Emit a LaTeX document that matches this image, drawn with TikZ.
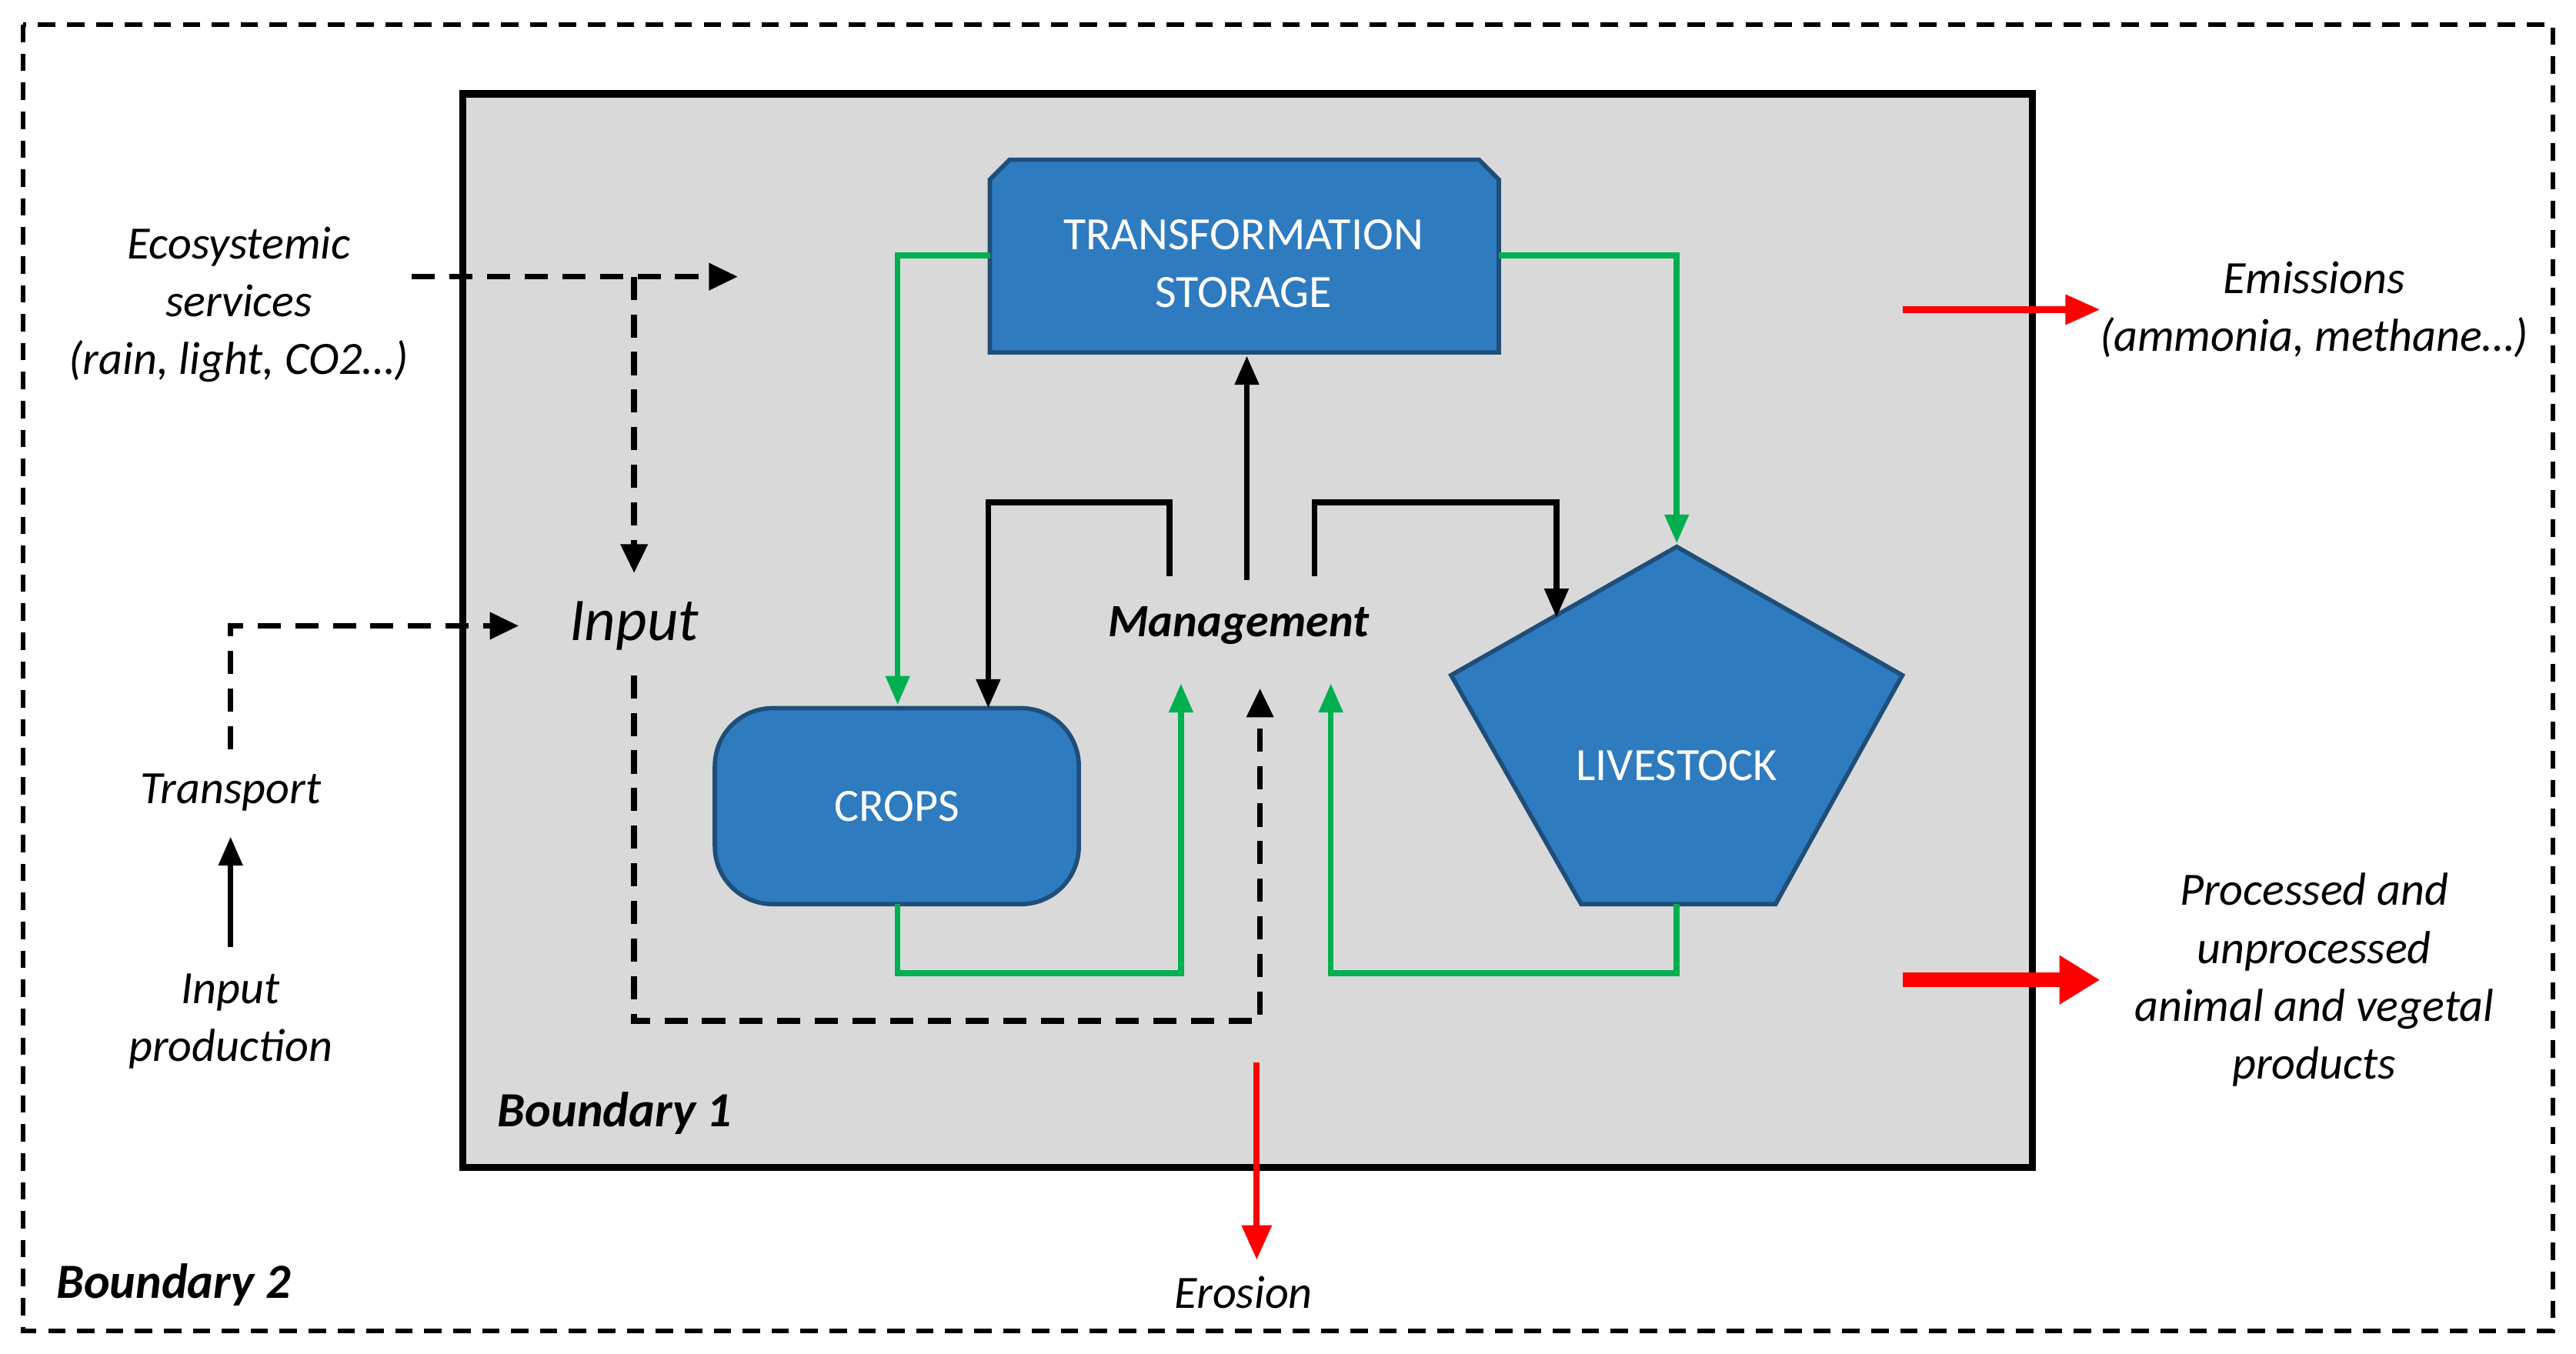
\documentclass[tikz,border=0pt]{standalone}
\usepackage{fontspec}
\setmainfont{Carlito}
\usetikzlibrary{arrows.meta}
\definecolor{boxblue}{HTML}{2E7BC0}
\definecolor{boxedge}{HTML}{1F4E79}
\definecolor{grn}{HTML}{00B050}
\begin{document}
\begin{tikzpicture}[x=0.02cm,y=-0.02cm,
  lbl/.style={font=\fontsize{16}{20}\selectfont\itshape,align=center},
  blk/.style={fill=boxblue,draw=boxedge,line width=1.5pt,text=white,font=\fontsize{16}{20}\selectfont,align=center},
  dsh/.style={dashed,line width=2pt,dash pattern=on 8pt off 5pt,-{Triangle[length=10pt,width=9pt]}},
  ga/.style={grn,line width=2pt,-{Triangle[length=10pt,width=8pt]}},
  ba/.style={black,line width=2pt,-{Triangle[length=10pt,width=8pt]}},
  ra/.style={red,line width=2.2pt,-{Triangle[length=12pt,width=10pt]}}]
\useasboundingbox (0,0) rectangle (1564,822);
\draw[line width=1.5pt,dash pattern=on 6pt off 4pt] (14,15) rectangle (1550,808);
\draw[fill=black!15,line width=2.5pt] (281,57) rectangle (1234,709);
% blocks
\draw[blk] (601,214) -- (601,109) -- (613,97) -- (898,97) -- (910,109) -- (910,214) -- cycle;
\node[text=white,font=\fontsize{16}{20}\selectfont,align=center] (ts) at (755,160) {TRANSFORMATION\\STORAGE};
\coordinate (tsL) at (601,155); \coordinate (tsR) at (910,155); \coordinate (tsB) at (757,216);
\node[blk,rounded corners=20,minimum width=221*0.02cm,minimum height=119*0.02cm] (crops) at (544.5,489.5) {CROPS};
\draw[blk] (1018,332) -- (1155,410) -- (1078,549) -- (960,549) -- (881,410) -- cycle;
\node[text=white,font=\fontsize{16}{20}\selectfont] (live) at (1018,465) {LIVESTOCK};
% texts
\node[font=\fontsize{16}{20}\selectfont\bfseries\itshape] (mg) at (752,380) {Management};
\node[font=\fontsize{21}{24}\selectfont\itshape] (in) at (385,380) {Input};
\node[lbl] (eco) at (145,185) {Ecosystemic\\services\\(rain, light, CO2…)};
\node[lbl] (tr) at (140,481) {Transport};
\node[lbl] (ip) at (140,620) {Input\\production};
\node[lbl] (em) at (1405,188) {Emissions\\(ammonia, methane…)};
\node[lbl] (pr) at (1405,595) {Processed and\\unprocessed\\animal and vegetal\\products};
\node[lbl] (er) at (755,785) {Erosion};
\node[font=\fontsize{17}{20}\selectfont\bfseries\itshape,anchor=west] (b1) at (296,676) {Boundary 1};
\node[font=\fontsize{17}{20}\selectfont\bfseries\itshape,anchor=west] (b2) at (28,780) {Boundary 2};
% coordinates
\coordinate (e1) at (250,168); \coordinate (e2) at (448,168); \coordinate (e3) at (385,168);
\coordinate (e4) at (385,348);
\coordinate (t1) at (140,455); \coordinate (t2) at (140,380); \coordinate (t3) at (315,380);
\coordinate (p1) at (140,575); \coordinate (p2) at (140,508);
\coordinate (i1) at (385,410); \coordinate (i2) at (385,620); \coordinate (i3) at (765,620); \coordinate (i4) at (765,418);
% dashed
\draw[dsh] (e1) -- (e2);
\draw[dsh] (e3) -- (e4);
\draw[dsh] (t1) -- (t2) -- (t3);
\draw[dsh] (i1) -- (i2) -- (i3) -- (i4);
\draw[ba] (p1) -- (p2);
% green
\draw[ga] (tsL) -- (545,155) -- (545,428);
\draw[ga] (tsR) -- (1018,155) -- (1018,330);
\draw[ga] (545,549) -- (545,591) -- (717,591) -- (717,415);
\draw[ga] (1018,549) -- (1018,591) -- (808,591) -- (808,415);
% black
\draw[ba] (757,352) -- (tsB);
\draw[ba] (710,350) -- (710,305) -- (600,305) -- (600,430);
\draw[ba] (798,350) -- (798,305) -- (945,305) -- (945,375);
% red
\draw[ra] (1155,188) -- (1275,188);
\draw[red,line width=5pt,-{Triangle[length=14pt,width=16pt]}] (1155,595) -- (1275,595);
\draw[ra] (763,645) -- (763,765);
\end{tikzpicture}
\end{document}
